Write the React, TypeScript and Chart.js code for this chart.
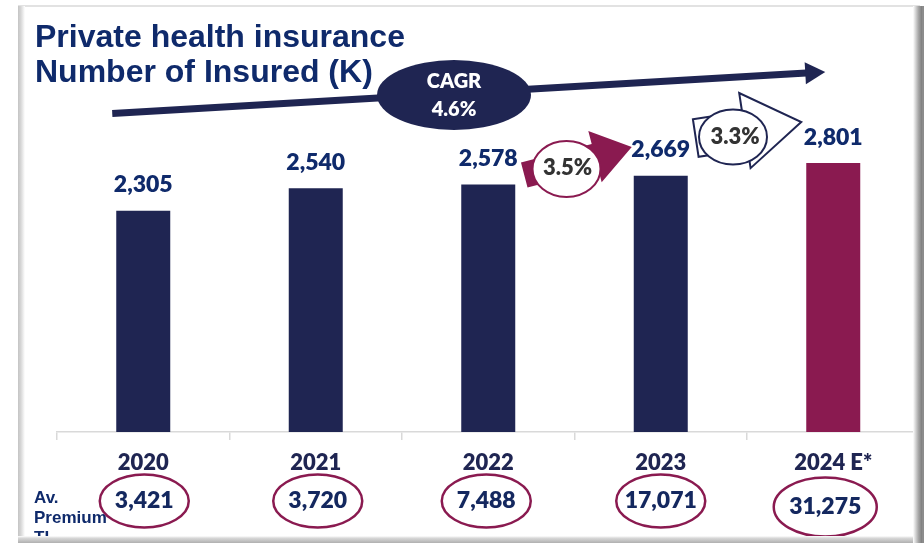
import React, { useEffect, useRef } from 'react';
import { Chart, registerables } from 'chart.js';

Chart.register(...registerables);

const categories = ['2020', '2021', '2022', '2023', '2024 E*'];
const insured = [2305, 2540, 2578, 2669, 2801];
const premiums = [3421, 3720, 7488, 17071, 31275];
const growthLabels = ['3.5%', '3.3%'];
const cagrLabel = '4.6%';
const titleLines = ['Private health insurance', 'Number of Insured (K)'];
const premiumLabelLines = ['Av.', 'Premium', 'TL'];

const NAVY_BAR = '#1f2552';
const MAROON = '#8a1a50';
const NAVY_TEXT = '#0f2a6b';
const barColors = insured.map((_, i) => (i === insured.length - 1 ? MAROON : NAVY_BAR));

const fmt = (v: number) => v.toLocaleString('en-US');
const HEAVY = '800';

function blockArrowPath(ctx: CanvasRenderingContext2D, tx: number, ty: number, ang: number, len: number, sh: number, hl: number, hh: number) {
  ctx.save();
  ctx.translate(tx, ty);
  ctx.rotate(ang);
  ctx.beginPath();
  ctx.moveTo(0, -sh);
  ctx.lineTo(len - hl, -sh);
  ctx.lineTo(len - hl, -hh);
  ctx.lineTo(len, 0);
  ctx.lineTo(len - hl, hh);
  ctx.lineTo(len - hl, sh);
  ctx.lineTo(0, sh);
  ctx.closePath();
  ctx.restore();
}

function ellipse(ctx: CanvasRenderingContext2D, cx: number, cy: number, rx: number, ry: number) {
  ctx.beginPath();
  ctx.ellipse(cx, cy, rx, ry, 0, 0, Math.PI * 2);
}

const framePlugin = {
  id: 'frame',
  beforeDraw(chart: any) {
    const { ctx, width, height } = chart;
    ctx.save();
    ctx.fillStyle = '#ffffff';
    ctx.fillRect(0, 0, width, height);
    ctx.fillStyle = '#e2e2e2';
    ctx.fillRect(18, 5, 902, 2);
    const lg = ctx.createLinearGradient(18, 0, 25, 0);
    lg.addColorStop(0, '#c4c4c4');
    lg.addColorStop(0.4, '#d6d6d6');
    lg.addColorStop(1, '#ffffff');
    ctx.fillStyle = lg;
    ctx.fillRect(18, 6, 7, 536);
    ctx.restore();
  },
  afterDraw(chart: any) {
    const { ctx, width, height } = chart;
    ctx.save();
    const bg = ctx.createLinearGradient(0, 536, 0, 543);
    bg.addColorStop(0, '#ffffff');
    bg.addColorStop(0.3, '#d8d8d8');
    bg.addColorStop(1, '#b0b0b0');
    ctx.fillStyle = bg;
    ctx.fillRect(18, 536, width - 18, 7);
    const rg = ctx.createLinearGradient(913, 0, 922, 0);
    rg.addColorStop(0, '#ffffff');
    rg.addColorStop(0.6, '#a8a8a8');
    rg.addColorStop(1, '#7c7c7c');
    ctx.fillStyle = rg;
    ctx.fillRect(913, 6, 9, height - 6);
    ctx.fillStyle = '#8c8c8c';
    ctx.fillRect(922, 6, 2, height - 6);
    ctx.restore();
  },
};

const annotPlugin = {
  id: 'annot',
  afterDatasetsDraw(chart: any) {
    const { ctx } = chart;
    const xs = chart.scales.x;
    const meta = chart.getDatasetMeta(0);
    const cx = categories.map((_, i) => xs.getPixelForValue(i));
    ctx.save();

    // value labels
    ctx.textAlign = 'center';
    ctx.textBaseline = 'middle';
    ctx.fillStyle = NAVY_TEXT;
    ctx.font = `${HEAVY} 23px Lato`;
    meta.data.forEach((bar: any, i: number) => {
      ctx.fillText(fmt(insured[i]), bar.x, bar.y - 26);
    });

    // title
    ctx.textAlign = 'left';
    ctx.textBaseline = 'alphabetic';
    ctx.font = 'bold 32px "Liberation Sans", Arial';
    ctx.fillStyle = NAVY_TEXT;
    ctx.fillText(titleLines[0], 35, 47);
    ctx.fillText(titleLines[1], 35, 82);

    // CAGR arrow
    const sx = cx[0] - 31, sy = 113.5;
    const tx = cx[4] - 8, ty = 72;
    const ang = Math.atan2(ty - sy, tx - sx);
    const hl = 20, hh = 11;
    const ex = tx - hl * Math.cos(ang), ey = ty - hl * Math.sin(ang);
    ctx.strokeStyle = NAVY_BAR;
    ctx.lineWidth = 7;
    ctx.beginPath();
    ctx.moveTo(sx, sy);
    ctx.lineTo(ex + Math.cos(ang), ey + Math.sin(ang));
    ctx.stroke();
    ctx.fillStyle = NAVY_BAR;
    ctx.beginPath();
    ctx.moveTo(tx, ty);
    ctx.lineTo(ex - hh * Math.sin(ang), ey + hh * Math.cos(ang));
    ctx.lineTo(ex + hh * Math.sin(ang), ey - hh * Math.cos(ang));
    ctx.closePath();
    ctx.fill();
    const ecx = (cx[1] + cx[2]) / 2 + 52;
    ellipse(ctx, ecx, 95, 77, 35);
    ctx.fill();
    ctx.fillStyle = '#ffffff';
    ctx.textAlign = 'center';
    ctx.textBaseline = 'middle';
    ctx.font = `${HEAVY} 20px Lato`;
    ctx.fillText('CAGR', ecx, 82);
    ctx.fillText(cagrLabel, ecx, 110);

    // 3.5% arrow (maroon filled)
    {
      const ax = cx[2] + 36, ay = 175, bx = cx[3] - 29, by = 147;
      const a = Math.atan2(by - ay, bx - ax);
      const len = Math.hypot(bx - ax, by - ay);
      blockArrowPath(ctx, ax, ay, a, len, 13, 38, 26.5);
      ctx.fillStyle = MAROON;
      ctx.fill();
      const ex2 = (cx[2] + cx[3]) / 2 - 8;
      ellipse(ctx, ex2, 169, 34, 28);
      ctx.fillStyle = '#ffffff';
      ctx.fill();
      ctx.strokeStyle = MAROON;
      ctx.lineWidth = 2;
      ctx.stroke();
      ctx.fillStyle = '#333333';
      ctx.font = `${HEAVY} 22px Lato`;
      ctx.fillText(growthLabels[0], ex2 + 1, 168);
    }

    // 3.3% arrow (white outlined)
    {
      const ax = cx[3] + 35, ay = 138, bx = cx[4] - 32, by = 122;
      const a = Math.atan2(by - ay, bx - ax);
      const len = Math.hypot(bx - ax, by - ay);
      blockArrowPath(ctx, ax, ay, a, len, 19, 57, 38);
      ctx.fillStyle = '#ffffff';
      ctx.fill();
      ctx.strokeStyle = NAVY_BAR;
      ctx.lineWidth = 2;
      ctx.stroke();
      const ex3 = (cx[3] + cx[4]) / 2 - 14;
      ellipse(ctx, ex3, 137, 34, 27.5);
      ctx.fillStyle = '#ffffff';
      ctx.fill();
      ctx.stroke();
      ctx.fillStyle = '#333333';
      ctx.font = `${HEAVY} 22px Lato`;
      ctx.fillText(growthLabels[1], ex3 + 2, 137);
    }

    // premium row
    ctx.textAlign = 'left';
    ctx.textBaseline = 'alphabetic';
    ctx.fillStyle = NAVY_TEXT;
    ctx.font = 'bold 17px "Liberation Sans", Arial';
    premiumLabelLines.forEach((t, i) => ctx.fillText(t, 34, 503 + i * 20));

    const offs = [1, 2, -2, 0, -8];
    premiums.forEach((p, i) => {
      const last = i === premiums.length - 1;
      const px = cx[i] + offs[i];
      const py = last ? 507 : 501;
      ellipse(ctx, px, py, last ? 51.5 : 44.5, last ? 29.5 : 26.5);
      ctx.strokeStyle = MAROON;
      ctx.lineWidth = 2.5;
      ctx.stroke();
      ctx.fillStyle = '#14285f';
      ctx.textAlign = 'center';
      ctx.textBaseline = 'middle';
      ctx.font = `${HEAVY} 23px Lato`;
      ctx.fillText(fmt(p), px, py);
    });

    ctx.restore();
  },
};

export default function App() {
  const ref = useRef<HTMLCanvasElement | null>(null);
  useEffect(() => {
    if (!ref.current) return;
    const chart = new Chart(ref.current, {
      type: 'bar',
      data: {
        labels: categories,
        datasets: [
          {
            data: insured,
            backgroundColor: barColors,
            borderWidth: 0,
            barPercentage: 0.313,
            categoryPercentage: 1,
          },
        ],
      },
      options: {
        responsive: false,
        animation: false,
        devicePixelRatio: 1,
        layout: { padding: { left: 57, right: 4.5, top: 48, bottom: 0 } },
        plugins: { legend: { display: false }, tooltip: { enabled: false }, title: { display: false } },
        scales: {
          x: {
            offset: true,
            grid: { display: true, drawOnChartArea: false, drawTicks: true, tickLength: 8, color: '#d9d9d9', lineWidth: 1.5, offset: true },
            border: { display: true, color: '#d9d9d9', width: 1.5 },
            ticks: { color: '#1f2552', font: { family: 'Lato', weight: HEAVY, size: 22 }, padding: 10, maxRotation: 0 },
            afterFit: (s: any) => { s.height = 111; },
          },
          y: { display: false, min: 0, max: 4000 },
        },
      },
      plugins: [framePlugin, annotPlugin],
    });
    return () => chart.destroy();
  }, []);
  return (
    <div style={{ position: 'fixed', left: 0, top: 0, width: 924, height: 543 }}>
      <canvas ref={ref} width={924} height={543} style={{ display: 'block', width: 924, height: 543 }} />
    </div>
  );
}
